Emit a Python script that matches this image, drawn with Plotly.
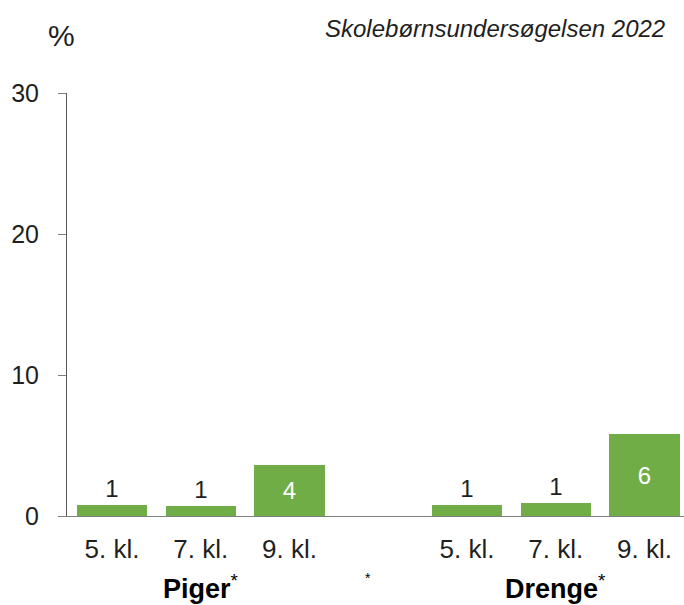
import plotly.graph_objects as go

grades = ["5. kl.", "7. kl.", "9. kl."]
piger = [0.78, 0.71, 3.62]
drenge = [0.78, 0.94, 5.82]
groups = ["Piger", "Drenge"]

GREEN = "#70AD47"
FONT = "Liberation Sans, Arial, sans-serif"
TXT = "#1f1f1f"


def labels(vals):
    return [f"{round(v):.0f}" for v in vals]


# piger at 0,1,2 - drenge at 4,5,6 (one empty slot between the groups)
xp = list(range(len(grades)))
xd = [len(grades) + 1 + i for i in range(len(grades))]

fig = go.Figure()
for xs, vals in ((xp, piger), (xd, drenge)):
    fig.add_trace(go.Bar(
        x=xs, y=vals, width=0.79, marker_color=GREEN, marker_line_width=0,
        text=labels(vals),
        textposition=["inside" if v > 2 else "outside" for v in vals],
        insidetextanchor="middle",
        textfont=dict(size=24, family=FONT),
        insidetextfont=dict(color="white", size=24, family=FONT),
        outsidetextfont=dict(color=TXT, size=24, family=FONT),
        constraintext="none", cliponaxis=False, showlegend=False,
        hoverinfo="skip",
    ))

fig.update_layout(
    width=684, height=605,
    margin=dict(l=67, r=0, t=93, b=89),
    plot_bgcolor="white", paper_bgcolor="white",
    font=dict(family=FONT, color=TXT),
    bargap=0,
    xaxis=dict(
        range=[-0.507, 6.445], tickvals=xp + xd, ticktext=grades + grades,
        tickfont=dict(size=26), showline=True, linecolor="#808080", linewidth=1,
        ticks="", showgrid=False, zeroline=False, ticklabelstandoff=10,
    ),
    yaxis=dict(
        range=[0, 30], tickvals=[0, 10, 20, 30], tickfont=dict(size=25),
        showline=True, linecolor="#595959", linewidth=1, ticks="outside",
        ticklen=8, tickcolor="#808080", showgrid=False, zeroline=False,
        ticklabelstandoff=14,
    ),
)

fig.add_annotation(text="%", xref="paper", yref="paper", x=-0.034, y=1.137,
                   yanchor="middle", showarrow=False, font=dict(size=30, color=TXT))
fig.add_annotation(text="<i>Skolebørnsundersøgelsen 2022</i>", xref="paper", yref="paper",
                   x=0.972, y=1.152, xanchor="right", yanchor="middle", showarrow=False,
                   font=dict(size=24, color=TXT))
for g, xs in zip(groups, (xp, xd)):
    fig.add_annotation(text=f"<b>{g}</b><sup>*</sup>", x=xs[1], xref="x", yref="paper",
                       y=-0.168, yanchor="middle", showarrow=False,
                       font=dict(size=27, color="black"))
fig.add_annotation(text="*", x=2.88, xref="x", yref="paper", y=-0.147, yanchor="middle",
                   showarrow=False, font=dict(size=14, color="black"))

# drop the default 8px body margin so the figure sits at the window's corner
fig.write_html("out.html", config=dict(displayModeBar=False),
               post_script="document.body.style.margin='0';")
